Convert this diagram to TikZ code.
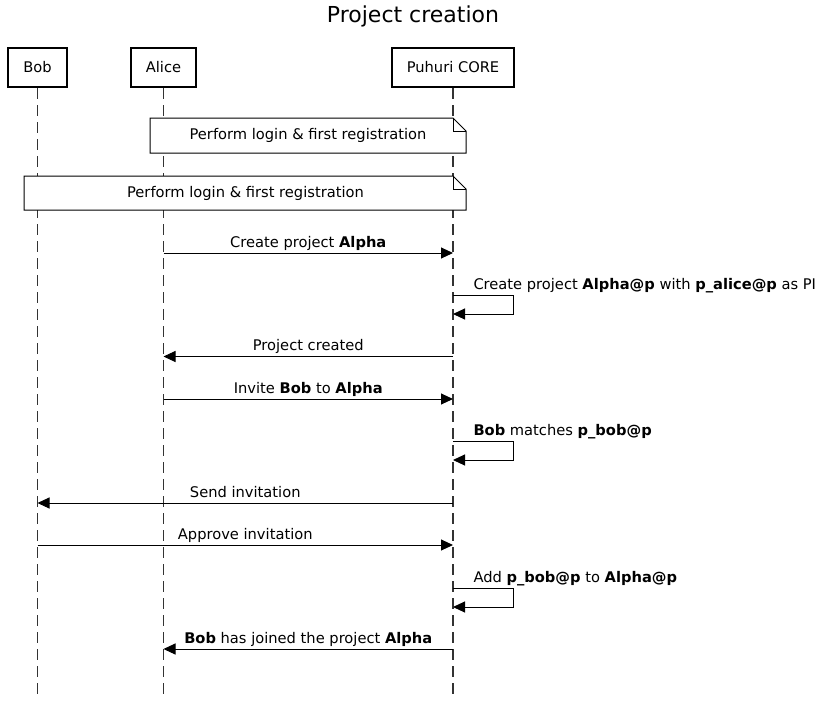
\documentclass[tikz,border=0pt]{standalone}
\usepackage{fontspec}
\setmainfont{DejaVu Sans}
\usetikzlibrary{arrows.meta}
\begin{document}
\begin{tikzpicture}[x=1pt, y=-1pt,
  actor/.style={draw, line width=2pt, minimum height=39pt, inner sep=0pt, font=\fontsize{14.67}{17}\selectfont},
  life/.style={black!80, line width=1.5pt, line cap=butt, dash pattern=on 11pt off 6pt},
  msg/.style={line width=1pt, -{Triangle[length=12pt,width=11pt]}},
  lbl/.style={anchor=base, yshift=6pt, inner sep=0pt, font=\fontsize{14.67}{17}\selectfont},
  note/.style={draw, fill=white, line width=1pt},
  notetext/.style={inner sep=0pt, font=\fontsize{14.67}{17}\selectfont}]
\useasboundingbox (0,0) rectangle (827,702);
\node[font=\fontsize{22}{26}\selectfont] (title) at (413,16){Project creation};
\node[actor, minimum width=59pt] (bob) at (37.5,67.5){Bob};
\node[actor, minimum width=65pt] (alice) at (163.5,67.5){Alice};
\node[actor, minimum width=122pt] (core) at (453,67.5){Puhuri CORE};
\coordinate (bottom) at (0,699);
\draw[life] (bob.south) -- (bob |- bottom);
\draw[life] (alice.south) -- (alice |- bottom);
\draw[life] (core.south) -- (core |- bottom);
% notes
\draw[note] (150,118) -- (453,118) -- (466,131) -- (466,153) -- (150,153) -- cycle;
\draw[line width=1pt] (453,118) -- (453,131) -- (466,131);
\node[notetext] (login1) at (308,135.5){Perform login \& first registration};
\draw[note] (24,176) -- (453,176) -- (466,189) -- (466,210) -- (24,210) -- cycle;
\draw[line width=1pt] (453,176) -- (453,189) -- (466,189);
\node[notetext] (login2) at (245.5,193){Perform login \& first registration};
% rows
\coordinate (r1) at (0,253);
\coordinate (s1a) at (0,295);
\coordinate (s1b) at (0,314);
\coordinate (r2) at (0,356.5);
\coordinate (r3) at (0,399);
\coordinate (s2a) at (0,441);
\coordinate (s2b) at (0,460);
\coordinate (r4) at (0,503);
\coordinate (r5) at (0,545);
\coordinate (s3a) at (0,588);
\coordinate (s3b) at (0,607);
\coordinate (r6) at (0,649);
\draw[msg] (alice |- r1) -- node[lbl]{Create project \textbf{Alpha}} (core |- r1);
\draw[msg] (core |- s1a) node[lbl, anchor=base west, xshift=20pt]{Create project \textbf{Alpha@p} with \textbf{p\_alice@p} as PI} -- ++(60,0) |- (core |- s1b);
\draw[msg] (core |- r2) -- node[lbl]{Project created} (alice |- r2);
\draw[msg] (alice |- r3) -- node[lbl]{Invite \textbf{Bob} to \textbf{Alpha}} (core |- r3);
\draw[msg] (core |- s2a) node[lbl, anchor=base west, xshift=20pt]{\textbf{Bob} matches \textbf{p\_bob@p}} -- ++(60,0) |- (core |- s2b);
\draw[msg] (core |- r4) -- node[lbl]{Send invitation} (bob |- r4);
\draw[msg] (bob |- r5) -- node[lbl]{Approve invitation} (core |- r5);
\draw[msg] (core |- s3a) node[lbl, anchor=base west, xshift=20pt]{Add \textbf{p\_bob@p} to \textbf{Alpha@p}} -- ++(60,0) |- (core |- s3b);
\draw[msg] (core |- r6) -- node[lbl]{\textbf{Bob} has joined the project \textbf{Alpha}} (alice |- r6);
\end{tikzpicture}
\end{document}
